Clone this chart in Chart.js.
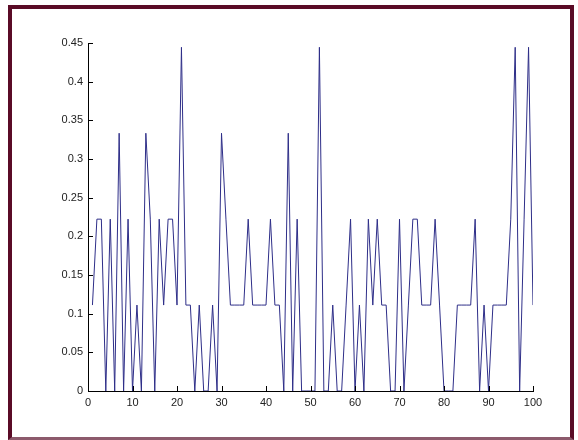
<!DOCTYPE html>
<html>
<head>
<meta charset="utf-8">
<script src="https://cdn.jsdelivr.net/npm/chart.js@4/dist/chart.umd.min.js"></script>
<style>
  html, body { margin: 0; padding: 0; background: #fff; }
  #wrap { position: relative; width: 578px; height: 440px; }
  #frame {
    position: absolute; left: 8px; top: 5px; width: 558px; height: 428px;
    border-top: 4px solid #5a0b26; border-left: 4px solid #5a0b26;
    border-right: 4px solid #5a0b26; border-bottom: 3px solid #8c5a6c;
    box-sizing: content-box;
  }
  canvas { position: absolute; left: 0; top: 0; }
</style>
</head>
<body>
<div id="wrap">
  <div id="frame"></div>
  <canvas id="chart" width="578" height="440"></canvas>
</div>
<script>
document.addEventListener('DOMContentLoaded', () => {
  // — data (MATLAB plot(y), x = 1..100, values in steps of 1/9) —
  const q = 1 / 9;
  const yValues = [
    1*q, 2*q, 2*q, 0,   2*q, 0,   3*q, 0,   2*q, 0,
    1*q, 0,   3*q, 2*q, 0,   2*q, 1*q, 2*q, 2*q, 1*q,
    4*q, 1*q, 1*q, 0,   1*q, 0,   0,   1*q, 0,   3*q,
    2*q, 1*q, 1*q, 1*q, 1*q, 2*q, 1*q, 1*q, 1*q, 1*q,
    2*q, 1*q, 1*q, 0,   3*q, 0,   2*q, 0,   0,   0,
    0,   4*q, 0,   0,   1*q, 0,   0,   1*q, 2*q, 0,
    1*q, 0,   2*q, 1*q, 2*q, 1*q, 1*q, 0,   0,   2*q,
    0,   1*q, 2*q, 2*q, 1*q, 1*q, 1*q, 2*q, 1*q, 0,
    0,   0,   1*q, 1*q, 1*q, 1*q, 2*q, 0,   1*q, 0,
    1*q, 1*q, 1*q, 1*q, 2*q, 4*q, 0,   2*q, 4*q, 1*q
  ];
  const xStart = 1;
  const xTicks = [0, 10, 20, 30, 40, 50, 60, 70, 80, 90, 100];
  const yTicks = [0, 0.05, 0.1, 0.15, 0.2, 0.25, 0.3, 0.35, 0.4, 0.45];

  const points = yValues.map((v, i) => ({ x: xStart + i, y: v }));

  // MATLAB style: ticks pointing into the plot
  const inwardTicks = {
    id: 'inwardTicks',
    afterDraw(chart) {
      const { ctx, chartArea, scales } = chart;
      ctx.save();
      ctx.strokeStyle = '#000';
      ctx.lineWidth = 1;
      ctx.beginPath();
      xTicks.forEach(t => {
        const px = Math.round(scales.x.getPixelForValue(t)) + 0.5;
        ctx.moveTo(px, chartArea.bottom);
        ctx.lineTo(px, chartArea.bottom - 5);
      });
      yTicks.forEach(t => {
        const py = Math.round(scales.y.getPixelForValue(t)) + 0.5;
        ctx.moveTo(chartArea.left, py);
        ctx.lineTo(chartArea.left + 5, py);
      });
      ctx.stroke();
      ctx.restore();
    }
  };

  const font = { family: '"Liberation Sans", Arial, sans-serif', size: 11 };

  new Chart(document.getElementById('chart').getContext('2d'), {
    type: 'line',
    data: {
      datasets: [{
        data: points,
        borderColor: '#2e2e88',
        borderWidth: 1,
        pointRadius: 0,
        pointHoverRadius: 0,
        tension: 0,
        fill: false
      }]
    },
    options: {
      responsive: false,
      animation: false,
      layout: { padding: { left: 0, top: 43, right: 45, bottom: 19 } },
      plugins: { legend: { display: false }, tooltip: { enabled: false } },
      scales: {
        x: {
          type: 'linear', min: 0, max: 100,
          afterBuildTicks: s => { s.ticks = xTicks.map(v => ({ value: v })); },
          afterFit: s => { s.height = 30; },
          grid: { display: false, drawTicks: false },
          border: { display: true, color: '#000', width: 1 },
          ticks: { color: '#222', font, padding: 5, maxRotation: 0 }
        },
        y: {
          type: 'linear', min: 0, max: 0.45,
          afterBuildTicks: s => { s.ticks = yTicks.map(v => ({ value: v })); },
          afterFit: s => { s.width = 88; },
          grid: { display: false, drawTicks: false },
          border: { display: true, color: '#000', width: 1 },
          ticks: {
            color: '#222', font, padding: 5,
            callback: v => String(Number(v.toFixed(2)))
          }
        }
      }
    },
    plugins: [inwardTicks]
  });
});
</script>
</body>
</html>
